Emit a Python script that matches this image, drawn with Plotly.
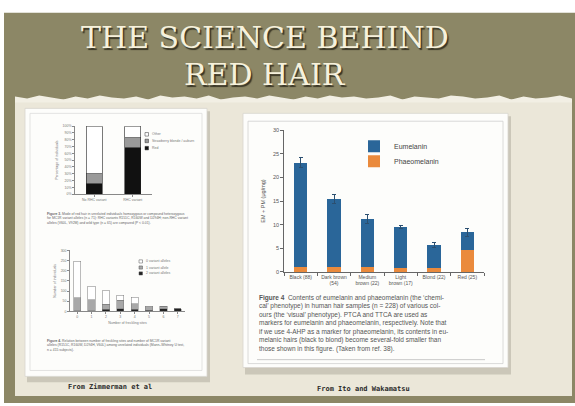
import plotly.graph_objects as go

# ---------------- data ----------------
# Main chart (Ito & Wakamatsu, Figure 4)
hair_colours = ["Black (88)", "Dark brown<br>(54)", "Medium<br>brown (22)",
                "Light<br>brown (17)", "Blond (22)", "Red (25)"]
eumelanin = [22.0, 14.4, 10.1, 8.6, 4.9, 3.8]
phaeomelanin = [1.1, 1.0, 1.1, 0.9, 0.8, 4.6]
total_error = [1.1, 1.0, 0.9, 0.3, 0.6, 0.8]

# Upper-left chart (Zimmerman et al, Figure 3) – percentages
genotype_groups = ["No RHC variant", "RHC variant"]
red_pct = [15, 68]
auburn_pct = [15, 15]
other_pct = [70, 17]
upper_legend = ["Other", "Strawberry blonde / auburn", "Red"]

# Lower-left chart (Zimmerman et al, Figure 4) – counts
freckle_sites = ["0", "1", "2", "3", "4", "5", "6", "7"]
two_variants = [4, 4, 10, 14, 10, 6, 12, 12]
one_variant = [62, 54, 24, 40, 28, 16, 12, 2]
no_variant = [179, 66, 68, 24, 32, 3, 1, 0]
lower_legend = ["0 variant alleles", "1 variant allele", "2 variant alleles"]

# ---------------- helpers ----------------
W, H = 575, 406


def X(p):
    return p / W


def Y(p):
    return 1 - p / H


EU = "#2a6699"
PH = "#ea8a3c"
OLIVE = "#8c8766"
CREAM = "#ebe7d9"
TXT = "#555555"

fig = go.Figure()

# main chart
fig.add_trace(go.Bar(x=hair_colours, y=phaeomelanin, name="Phaeomelanin",
                     marker=dict(color=PH, line=dict(width=0)), width=0.4,
                     legend="legend2", xaxis="x", yaxis="y"))
fig.add_trace(go.Bar(x=hair_colours, y=eumelanin, name="Eumelanin",
                     marker=dict(color=EU, line=dict(width=0)), width=0.4,
                     error_y=dict(type="data", array=total_error, color="#2b4f70",
                                  thickness=1, width=2),
                     legend="legend", xaxis="x", yaxis="y"))

# upper-left chart
for vals, col, nm in [(red_pct, "#111111", upper_legend[2]),
                      (auburn_pct, "#9a9a9a", upper_legend[1]),
                      (other_pct, "#ffffff", upper_legend[0])]:
    fig.add_trace(go.Bar(x=genotype_groups, y=vals, name=nm, showlegend=False,
                         marker=dict(color=col, line=dict(color="#222", width=0.6)),
                         width=0.42, xaxis="x2", yaxis="y2"))

# lower-left chart
for vals, col, nm in [(two_variants, "#222222", lower_legend[2]),
                      (one_variant, "#a8a8a8", lower_legend[1]),
                      (no_variant, "#ffffff", lower_legend[0])]:
    fig.add_trace(go.Bar(x=freckle_sites, y=vals, name=nm, showlegend=False,
                         marker=dict(color=col, line=dict(color="#777", width=0.5)),
                         width=0.5, xaxis="x3", yaxis="y3"))

shapes = []


def rect(x0, y0, x1, y1, fill, line=None, lw=0, layer="below"):
    shapes.append(dict(type="rect", xref="paper", yref="paper", x0=X(x0), x1=X(x1),
                       y0=Y(y1), y1=Y(y0), fillcolor=fill, layer=layer,
                       line=dict(color=line or fill, width=lw)))


# slide background
rect(4, 10, 575, 406, OLIVE)
rect(15, 98, 572, 399, CREAM)
# torn paper edge under header
edge = [95, 97, 94, 96, 98, 95, 97, 94, 96, 97, 95, 98, 94, 96, 95, 97, 94, 98, 96, 95,
        97, 94, 96, 98, 95, 97, 94, 96, 95, 97, 96, 94, 98, 95, 96, 97, 94, 95, 97, 96,
        94, 98, 95, 97, 96, 94, 97]
step = (572 - 15) / (len(edge) - 1)
path = "M {:.4f},{:.4f} ".format(X(15), Y(101))
for i, e in enumerate(edge):
    path += "L {:.4f},{:.4f} ".format(X(15 + i * step), Y(e))
path += "L {:.4f},{:.4f} Z".format(X(572), Y(101))
shapes.append(dict(type="path", path=path, xref="paper", yref="paper",
                   fillcolor="#f2efe4", line=dict(width=0), layer="below"))

# paper shadows
rect(27, 110, 210, 385, "rgba(60,55,40,0.18)")
rect(245, 115, 511, 377, "rgba(60,55,40,0.18)")
# papers
rect(25, 107, 207, 379, "#fdfdfb", "#d8d6cf", 0.8)
rect(243, 112, 508, 370, "#fdfdfb", "#d8d6cf", 0.8)
# inner frames
rect(30, 112, 202, 373, "rgba(0,0,0,0)", "#dcdcdc", 0.8)
rect(248, 120, 503, 366, "rgba(0,0,0,0)", "#d0d0d0", 0.8)
# caption rule on the right paper
shapes.append(dict(type="line", xref="paper", yref="paper", x0=X(257), x1=X(485),
                   y0=Y(362), y1=Y(362), line=dict(color="#bbbbbb", width=0.8),
                   layer="below"))

# manual mini-legends for the small figures
for i, col in enumerate(["#ffffff", "#9a9a9a", "#111111"]):
    yy = [133.3, 140, 147.3][i]
    rect(145, yy - 1.8, 148.5, yy + 1.8, col, "#333", 0.5, layer="above")
for i, col in enumerate(["#ffffff", "#a8a8a8", "#222222"]):
    yy = [262.3, 268.5, 274.5][i]
    rect(139, yy - 1.6, 142.5, yy + 1.6, col, "#555", 0.5, layer="above")

annotations = []


def text(x, y, s, size, color=TXT, family="Liberation Sans", xanchor="left",
         align="left", shadow=None):
    f = dict(size=size, color=color, family=family)
    if shadow:
        f["shadow"] = shadow
    annotations.append(dict(x=X(x), y=Y(y), xref="paper", yref="paper", text=s,
                            showarrow=False, xanchor=xanchor, yanchor="middle",
                            align=align, font=f))


# title with shadow
text(265, 35.5, "THE SCIENCE BEHIND", 30, "#f6f1dc", "DejaVu Serif",
     "center", "center", shadow="1.6px 1.6px 1px #3a3626")
text(265, 72.5, "RED HAIR", 30, "#f6f1dc", "DejaVu Serif",
     "center", "center", shadow="1.6px 1.6px 1px #3a3626")

# mini legend labels
for i, s in enumerate(upper_legend):
    text(150, [133.3, 140, 147.3][i], s, 3.5, "#777")
for i, s in enumerate(lower_legend):
    text(144, [262.3, 268.5, 274.5][i], s, 3.5, "#777")

# captions
cap3 = ("<b>Figure 3.</b> Mode of red hair in unrelated individuals homozygous or compound heterozygous<br>"
        "for MC1R variant alleles (n = 71): RHC variants R151C, R160W and D294H; non-RHC variant<br>"
        "alleles (V60L, V92M) and wild type (n = 65) are compared (P &lt; 0.01).")
text(45, 218.5, cap3, 3.4, "#666")
cap4 = ("<b>Figure 4.</b> Relation between number of freckling sites and number of MC1R variant<br>"
        "alleles (R151C, R160W, D294H, V60L) among unrelated individuals (Mann–Whitney U test,<br>"
        "n = 415 subjects).")
text(45, 348, cap4, 3.4, "#666")
cap_main = ("<b>Figure 4</b>  Contents of eumelanin and phaeomelanin (the ‘chemi-<br>"
            "cal’ phenotype) in human hair samples (n = 228) of various col-<br>"
            "ours (the ‘visual’ phenotype). PTCA and TTCA are used as<br>"
            "markers for eumelanin and phaeomelanin, respectively. Note that<br>"
            "if we use 4-AHP as a marker for phaeomelanin, its contents in eu-<br>"
            "melanic hairs (black to blond) become several-fold smaller than<br>"
            "those shown in this figure. (Taken from ref. 38).")
text(257, 325.5, cap_main, 6.5, "#555")

# source credits
text(110, 390, "<b>From Zimmerman et al</b>", 7, "#2a2a2a", "DejaVu Sans Mono", "center")
text(363, 392, "<b>From Ito and Wakamatsu</b>", 7, "#2a2a2a", "DejaVu Sans Mono", "center")

axis_common = dict(showgrid=False, zeroline=False, showline=True, ticks="outside")
leg_common = dict(xanchor="left", yanchor="middle", bgcolor="rgba(0,0,0,0)",
                  font=dict(size=7, color="#444"))

fig.update_layout(
    width=W, height=H, margin=dict(l=0, r=0, t=0, b=0),
    paper_bgcolor="white", plot_bgcolor="rgba(0,0,0,0)",
    barmode="stack", bargap=0.6,
    shapes=shapes, annotations=annotations,
    font=dict(family="Liberation Sans", color=TXT),
    legend=dict(x=X(354), y=Y(145.5), **leg_common),
    legend2=dict(x=X(354), y=Y(160.5), **leg_common),
    # main chart axes
    xaxis=dict(domain=[X(284), X(484)], range=[-0.5, 5.5], anchor="y", tickangle=0,
               linecolor="#666", linewidth=0.8, tickson="boundaries", ticklen=3,
               tickcolor="#666", tickfont=dict(size=5, color="#555"), **axis_common),
    yaxis=dict(domain=[Y(273), Y(129)], range=[0, 30], dtick=5, anchor="x",
               linecolor="#666", linewidth=0.8, ticklen=3, tickcolor="#666",
               tickfont=dict(size=5.5, color="#555"),
               title=dict(text="EM + PM (μg/mg)", font=dict(size=5.5, color="#555"),
                          standoff=6), **axis_common),
    # upper-left chart axes
    xaxis2=dict(domain=[X(75), X(152)], range=[-0.5, 1.5], anchor="y2", tickangle=0,
                linecolor="#888", linewidth=0.6, ticklen=2, tickcolor="#888",
                tickfont=dict(size=3.5, color="#777"), **axis_common),
    yaxis2=dict(domain=[Y(194), Y(125)], range=[0, 100], dtick=10, ticksuffix="%",
                anchor="x2", linecolor="#888", linewidth=0.6, ticklen=2,
                tickcolor="#888", tickfont=dict(size=3.5, color="#777"),
                title=dict(text="Percentage of individuals",
                           font=dict(size=3.5, color="#777"), standoff=4),
                **axis_common),
    # lower-left chart axes
    xaxis3=dict(domain=[X(70), X(185)], range=[-0.5, 7.5], anchor="y3", tickangle=0,
                linecolor="#888", linewidth=0.6, ticklen=2, tickcolor="#888",
                tickfont=dict(size=3.5, color="#777"),
                title=dict(text="Number of freckling sites",
                           font=dict(size=3.5, color="#777"), standoff=3),
                **axis_common),
    yaxis3=dict(domain=[Y(313), Y(251)], range=[0, 300], dtick=50, anchor="x3",
                linecolor="#888", linewidth=0.6, ticklen=2, tickcolor="#888",
                tickfont=dict(size=3.5, color="#777"),
                title=dict(text="Number of individuals",
                           font=dict(size=3.5, color="#777"), standoff=4),
                **axis_common),
)

fig.write_html("out.html")
